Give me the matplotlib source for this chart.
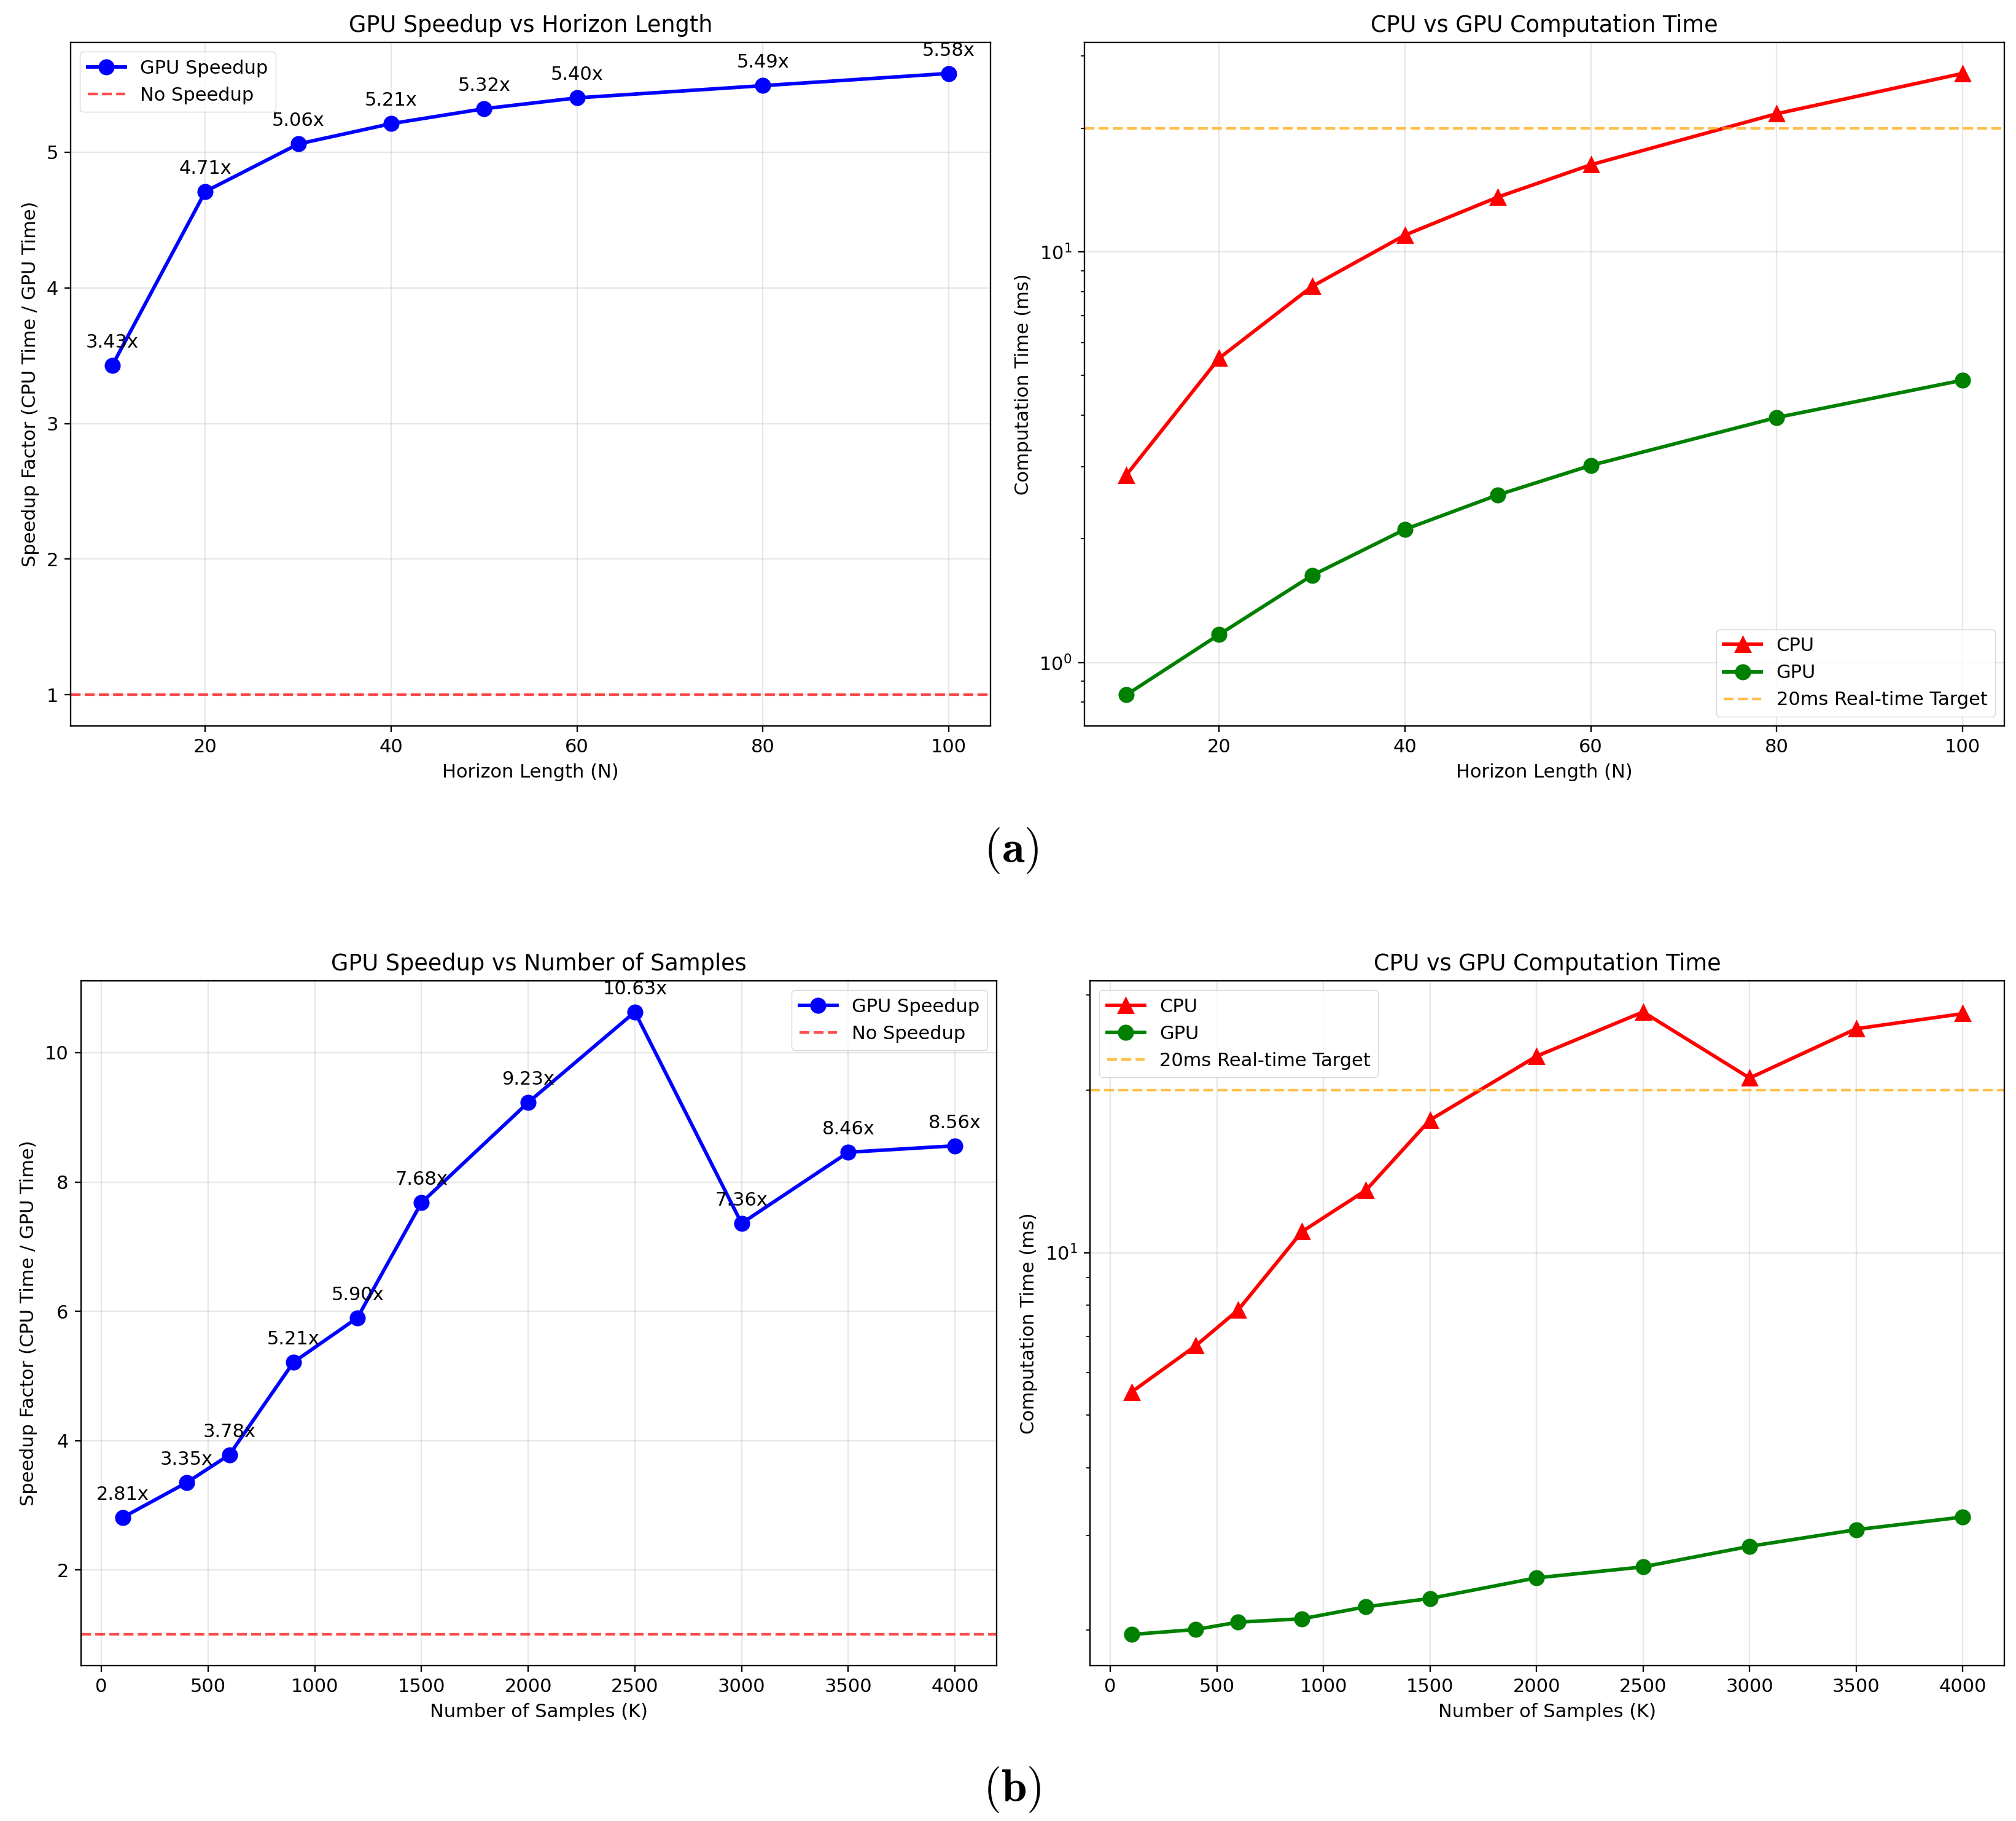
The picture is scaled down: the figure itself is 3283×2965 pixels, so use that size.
import numpy as np
import matplotlib
matplotlib.use('Agg')
import matplotlib.pyplot as plt

# scale factors from the original 10 pt figure to this canvas
k = 2.09    # lines, ticks
fk = 2.2    # text
plt.rcParams['font.family'] = ['DejaVu Sans']
plt.rcParams['font.size'] = 10 * fk
plt.rcParams['axes.titlesize'] = 12 * fk
plt.rcParams['axes.linewidth'] = 0.8 * k
plt.rcParams['xtick.major.width'] = 0.8 * k
plt.rcParams['ytick.major.width'] = 0.8 * k
plt.rcParams['xtick.minor.width'] = 0.6 * k
plt.rcParams['ytick.minor.width'] = 0.6 * k
plt.rcParams['xtick.major.size'] = 3.5 * k
plt.rcParams['ytick.major.size'] = 3.5 * k
plt.rcParams['ytick.minor.size'] = 2 * k
plt.rcParams['xtick.major.pad'] = 3.5 * k
plt.rcParams['ytick.major.pad'] = 3.5 * k
plt.rcParams['axes.labelpad'] = 4 * k
plt.rcParams['axes.titlepad'] = 6 * k
plt.rcParams['grid.linewidth'] = 0.8 * k

# (a) horizon length sweep
horizon = [10, 20, 30, 40, 50, 60, 80, 100]
speedup_h = [3.43, 4.71, 5.06, 5.21, 5.32, 5.40, 5.49, 5.58]
cpu_h = [2.86, 5.51, 8.24, 10.99, 13.6, 16.3, 21.7, 27.2]
gpu_h = [0.834, 1.17, 1.63, 2.11, 2.56, 3.02, 3.95, 4.87]

# (b) number of samples sweep
samples = [100, 400, 600, 900, 1200, 1500, 2000, 2500, 3000, 3500, 4000]
speedup_s = [2.81, 3.35, 3.78, 5.21, 5.90, 7.68, 9.23, 10.63, 7.36, 8.46, 8.56]
cpu_s = [5.52, 6.72, 7.83, 10.94, 13.05, 17.6, 23.1, 27.9, 21.05, 25.97, 27.7]
gpu_s = [1.964, 2.006, 2.07, 2.10, 2.21, 2.29, 2.50, 2.62, 2.86, 3.07, 3.24]

target_ms = 20

W, H = 3283, 2965
fig = plt.figure(figsize=(W / 100, H / 100), dpi=100)


def box(left, right, top, bottom):
    return [left / W, (H - bottom) / H, (right - left) / W, (bottom - top) / H]


ax1 = fig.add_axes(box(115, 1613, 69, 1182))
ax2 = fig.add_axes(box(1766, 3264, 69, 1182))
ax3 = fig.add_axes(box(132, 1623, 1597, 2712))
ax4 = fig.add_axes(box(1775, 3264, 1597, 2712))


def speedup_panel(ax, x, s, xlabel, title, loc):
    ax.plot(x, s, 'b-o', linewidth=2 * k, markersize=8 * k,
            markeredgewidth=k, label='GPU Speedup')
    ax.axhline(y=1, color='r', linestyle='--', alpha=0.7,
               linewidth=1.5 * k, label='No Speedup')
    for xi, si in zip(x, s):
        ax.annotate('%.2fx' % si, (xi, si), textcoords='offset points',
                    xytext=(0, 10 * k), ha='center')
    ax.set_xlabel(xlabel)
    ax.set_ylabel('Speedup Factor (CPU Time / GPU Time)')
    ax.set_title(title)
    ax.grid(True, alpha=0.3)
    ax.legend(loc=loc)


def time_panel(ax, x, cpu, gpu, xlabel, loc):
    ax.semilogy(x, cpu, 'r-^', linewidth=2 * k, markersize=8 * k,
                markeredgewidth=k, label='CPU')
    ax.semilogy(x, gpu, 'g-o', linewidth=2 * k, markersize=8 * k,
                markeredgewidth=k, label='GPU')
    ax.axhline(y=target_ms, color='orange', linestyle='--', alpha=0.7,
               linewidth=1.5 * k, label='20ms Real-time Target')
    ax.set_xlabel(xlabel)
    ax.set_ylabel('Computation Time (ms)')
    ax.set_title('CPU vs GPU Computation Time')
    ax.grid(True, alpha=0.3)
    ax.legend(loc=loc)


speedup_panel(ax1, horizon, speedup_h, 'Horizon Length (N)',
              'GPU Speedup vs Horizon Length', 'upper left')
time_panel(ax2, horizon, cpu_h, gpu_h, 'Horizon Length (N)', 'lower right')
speedup_panel(ax3, samples, speedup_s, 'Number of Samples (K)',
              'GPU Speedup vs Number of Samples', 'upper right')
time_panel(ax4, samples, cpu_s, gpu_s, 'Number of Samples (K)', 'upper left')

fig.text(1647 / W, 1 - 1385 / H, r'$\mathbf{(a)}$', math_fontfamily='cm',
         fontsize=54, ha='center', va='center')
fig.text(1648 / W, 1 - 2914 / H, r'$\mathbf{(b)}$', math_fontfamily='cm',
         fontsize=54, ha='center', va='center')

fig.savefig('out.png', dpi=100, facecolor='white')
